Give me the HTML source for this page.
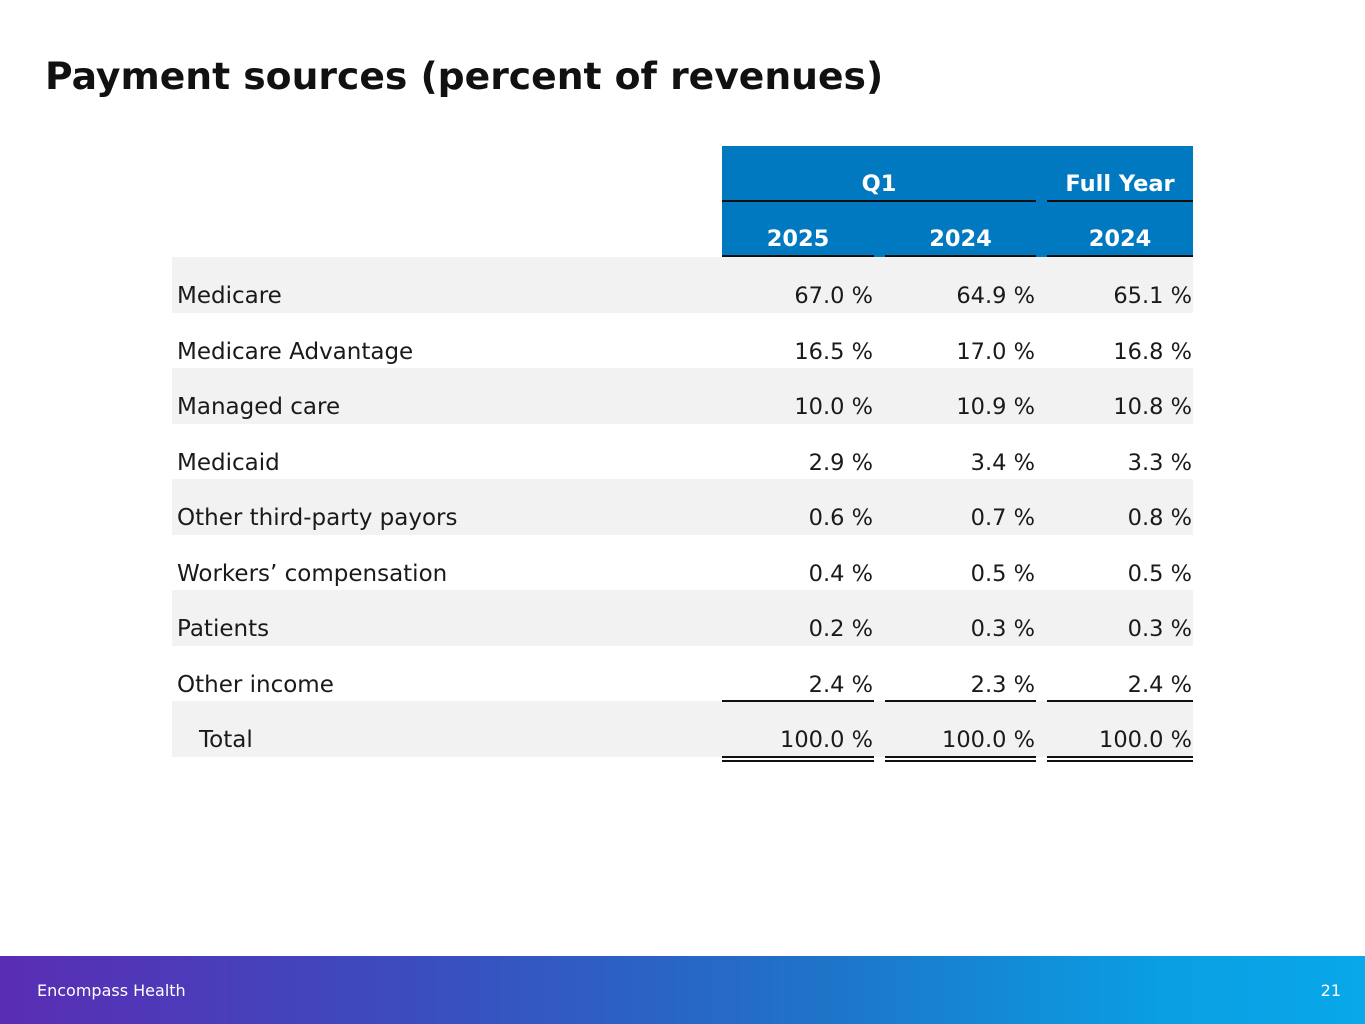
<!DOCTYPE html>
<html><head><meta charset="utf-8"><style>
body{margin:0;width:1365px;height:1024px;position:relative;background:#fff;font-family:"DejaVu Sans","Liberation Sans",sans-serif;overflow:hidden;color:#1a1a1a}
.abs{position:absolute}
#title{left:45px;top:54px;font-size:37.7px;font-weight:bold;white-space:nowrap;color:#111}
.row{position:absolute;left:172px;width:1021px;height:55.5px}
.shade{background:#f2f2f2}
.lbl{position:absolute;left:5px;top:0;font-size:23px;white-space:nowrap;padding-top:22px;line-height:35px}
.val{position:absolute;top:22px;line-height:35px;font-size:22.5px;text-align:right;white-space:nowrap}
.hdr{color:#fff;font-weight:bold;font-size:22.5px;position:absolute;text-align:center;white-space:nowrap}
.ln{position:absolute;height:2px;background:#111}
#footer{left:0;top:956px;width:1365px;height:68px;background:linear-gradient(90deg,#5a2db4 0%,#3c4cbf 30%,#1f73c8 60%,#0a9ee2 85%,#08a8ea 100%)}
</style></head><body>
<div id="title" class="abs">Payment sources (percent of revenues)</div>
<div class="abs" style="left:722px;top:146px;width:471px;height:111px;background:#0079c1"></div>
<div class="hdr" style="left:722px;width:314px;top:171px">Q1</div>
<div class="hdr" style="left:1047px;width:146px;top:171px">Full Year</div>
<div class="ln" style="left:722px;width:314px;top:200px"></div>
<div class="ln" style="left:1047px;width:146px;top:200px"></div>
<div class="hdr" style="left:722px;width:152px;top:226px">2025</div>
<div class="hdr" style="left:885px;width:151px;top:226px">2024</div>
<div class="hdr" style="left:1047px;width:146px;top:226px">2024</div>
<div class="ln" style="left:722px;width:152px;top:255px"></div>
<div class="ln" style="left:885px;width:151px;top:255px"></div>
<div class="ln" style="left:1047px;width:146px;top:255px"></div>
<div id="rows"></div>
<div id="footer" class="abs">
<div class="abs" style="left:37px;top:25px;color:#fff;font-size:16px">Encompass Health</div>
<div class="abs" style="right:24px;top:25px;color:#fff;font-size:16px">21</div>
</div>
<script>
const categories=["Medicare","Medicare Advantage","Managed care","Medicaid","Other third-party payors","Workers’ compensation","Patients","Other income","Total"];
const q1_2025=["67.0","16.5","10.0","2.9","0.6","0.4","0.2","2.4","100.0"];
const q1_2024=["64.9","17.0","10.9","3.4","0.7","0.5","0.3","2.3","100.0"];
const fy_2024=["65.1","16.8","10.8","3.3","0.8","0.5","0.3","2.4","100.0"];
const cont=document.getElementById('rows');
const cols=[[722,152],[885,151],[1047,146]];
const series=[q1_2025,q1_2024,fy_2024];
categories.forEach((c,i)=>{
  const r=document.createElement('div');
  r.className='row'+(i%2===0?' shade':'');
  r.style.top=(257+i*55.5)+'px';
  
  
  const l=document.createElement('div');
  l.className='lbl';
  if(c==='Total') l.style.left='27px';
  l.textContent=c;
  
  
  r.appendChild(l);
  series.forEach((s,j)=>{
    const v=document.createElement('div');
    v.className='val';
    v.style.left=(cols[j][0]-172)+'px';
    v.style.width=(cols[j][1]-1)+'px';
    v.textContent=s[i]+' %';
    
    
    r.appendChild(v);
  });
  cont.appendChild(r);
});
const topY=257+8*55.5;
cols.forEach(([x,w])=>{
  [topY-1, topY+55.5-1, topY+55.5+3].forEach(y=>{
    const d=document.createElement('div');
    d.className='ln';
    d.style.left=x+'px';d.style.width=w+'px';d.style.top=y+'px';
    
    
    document.body.appendChild(d);
  });
});
</script>
</body></html>
